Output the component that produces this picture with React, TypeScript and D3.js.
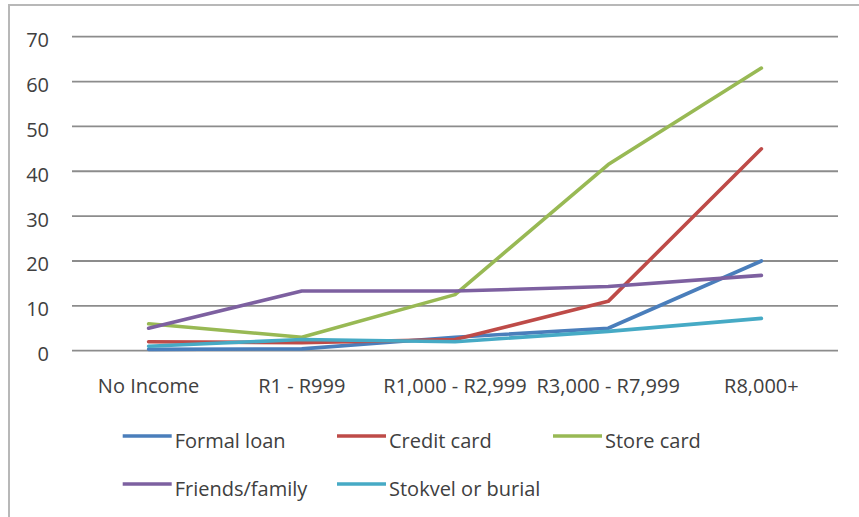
import React from "react";
import * as d3 from "d3";

const categories = ["No Income", "R1 - R999", "R1,000 - R2,999", "R3,000 - R7,999", "R8,000+"];
const seriesNames = ["Formal loan", "Credit card", "Store card", "Friends/family", "Stokvel or burial"];
const seriesColors = ["#4A7EBB", "#BE4B48", "#98B954", "#7D60A0", "#46AAC5"];
const formalLoan = [0.3, 0.4, 3, 5, 20];
const creditCard = [2, 1.8, 2.5, 11, 45];
const storeCard = [6, 3, 12.5, 41.5, 63];
const friendsFamily = [5, 13.3, 13.3, 14.3, 16.8];
const stokvelBurial = [1, 2.5, 2, 4.3, 7.2];
const yTicks = [0, 10, 20, 30, 40, 50, 60, 70];

const W = 859;
const H = 517;
const font = "'Open Sans', sans-serif";
const textColor = "#404040";

export default function App() {
  const seriesValues = [formalLoan, creditCard, storeCard, friendsFamily, stokvelBurial];

  const x = d3.scaleBand<string>().domain(categories).range([72, 838]);
  const y = d3.scaleLinear().domain([0, 70]).range([350.7, 36.7]);
  const line = d3
    .line<number>()
    .x((_, i) => (x(categories[i]) as number) + x.bandwidth() / 2)
    .y((d) => y(d));

  const legendCols = [122.7, 337, 553];
  const legendRows = [436, 484];

  return (
    <svg
      width={W}
      height={H}
      style={{ position: "absolute", left: 0, top: 0, background: "#fff" }}
      fontFamily={font}
    >
      <rect x={9} y={5} width={900} height={600} fill="#fff" stroke="#b8b8b8" strokeWidth={2} />

      {yTicks.map((t) => (
        <g key={t}>
          <line x1={72} x2={838} y1={y(t)} y2={y(t)} stroke="#8c8c8c" strokeWidth={1.8} />
          <text
            x={49}
            y={y(t) + 3}
            textAnchor="end"
            dominantBaseline="central"
            fontSize={20}
            fill={textColor}
          >
            {t}
          </text>
        </g>
      ))}

      {categories.map((c) => (
        <text
          key={c}
          x={(x(c) as number) + x.bandwidth() / 2}
          y={385}
          textAnchor="middle"
          dominantBaseline="central"
          fontSize={20}
          fill={textColor}
        >
          {c}
        </text>
      ))}

      {seriesValues.map((vals, i) => (
        <path
          key={seriesNames[i]}
          d={line(vals) ?? ""}
          fill="none"
          stroke={seriesColors[i]}
          strokeWidth={3.6}
          strokeLinejoin="round"
          strokeLinecap="round"
        />
      ))}

      {seriesNames.map((name, i) => {
        const lx = legendCols[i % 3];
        const ly = legendRows[Math.floor(i / 3)];
        return (
          <g key={name}>
            <line x1={lx} x2={lx + 49} y1={ly} y2={ly} stroke={seriesColors[i]} strokeWidth={3.6} />
            <text
              x={lx + 52}
              y={ly + 4}
              dominantBaseline="central"
              fontSize={20}
              fill={textColor}
            >
              {name}
            </text>
          </g>
        );
      })}
    </svg>
  );
}
